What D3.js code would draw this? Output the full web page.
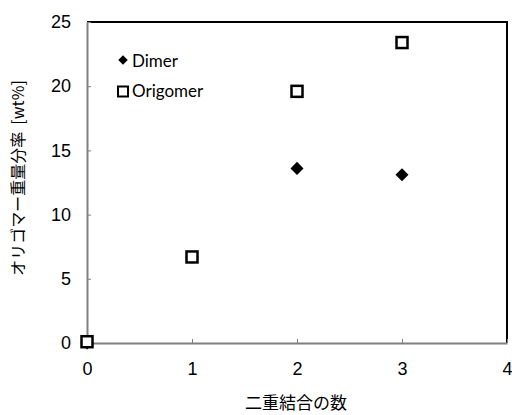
<!DOCTYPE html>
<html>
<head>
	<meta charset="utf-8"/>
	<script src="https://cdn.jsdelivr.net/npm/d3@7"></script>
	<style type="text/css">
		body { margin: 0; background: #fff; }
	</style>
</head>
<body>
	<svg id="chart" width="512" height="415"></svg>
	<script type="text/javascript">
		// data
		var bonds = [0, 1, 2, 3];
		var dimer = [0, 6.7, 13.6, 13.1];
		var origomer = [0.1, 6.7, 19.6, 23.4];
		var xTicks = [0, 1, 2, 3, 4];
		var yTicks = [0, 5, 10, 15, 20, 25];

		var svg = d3.select("#chart");
		var plotLeft = 87, plotRight = 507, plotTop = 22, plotBottom = 343;

		var x = d3.scaleLinear().domain([0, 4]).range([plotLeft, plotRight]);
		var y = d3.scaleLinear().domain([0, 25]).range([plotBottom, plotTop]);

		// frame: top and right black
		svg.append("path")
			.attr("d", "M" + plotLeft + "," + plotTop + "H" + plotRight + "V" + plotBottom)
			.attr("fill", "none")
			.attr("stroke", "#000")
			.attr("stroke-width", 2);

		// x axis, ticks inside
		var xAxis = svg.append("g")
			.attr("transform", "translate(0," + plotBottom + ")")
			.call(d3.axisBottom(x).tickValues(xTicks).tickFormat(d3.format("d"))
				.tickSizeInner(-4).tickSizeOuter(0).tickPadding(19));
		xAxis.select(".domain").attr("stroke", "#808080").attr("stroke-width", 2);
		xAxis.selectAll(".tick line").attr("stroke", "#808080");
		xAxis.selectAll("text")
			.style("font-family", "Liberation Sans, Arial, sans-serif")
			.style("font-size", "18px")
			.attr("fill", "#000");

		var yAxis = svg.append("g")
			.attr("transform", "translate(" + plotLeft + ",0)")
			.call(d3.axisLeft(y).tickValues(yTicks).tickFormat(d3.format("d"))
				.tickSizeInner(-4).tickSizeOuter(0).tickPadding(16));
		yAxis.select(".domain").attr("stroke", "#808080").attr("stroke-width", 2);
		yAxis.selectAll(".tick line").attr("stroke", "#808080");
		yAxis.selectAll("text")
			.style("font-family", "Liberation Sans, Arial, sans-serif")
			.style("font-size", "18px")
			.attr("fill", "#000");

		// dimer diamonds drawn first, squares on top
		var diamond = d3.symbol().type(d3.symbolSquare).size(85);
		svg.append("g").selectAll("path")
			.data(bonds).enter()
			.append("path")
			.attr("d", diamond)
			.attr("transform", function(d, i) { return "translate(" + x(d) + "," + y(dimer[i]) + ") rotate(45)"; })
			.attr("fill", "#000");

		svg.append("g").selectAll("rect")
			.data(bonds).enter()
			.append("rect")
			.attr("x", function(d) { return x(d) - 5.5; })
			.attr("y", function(d, i) { return y(origomer[i]) - 5.5; })
			.attr("width", 11)
			.attr("height", 11)
			.attr("fill", "#fff")
			.attr("stroke", "#000")
			.attr("stroke-width", 2.5);

		// legend
		var legend = svg.append("g");
		legend.append("path")
			.attr("d", d3.symbol().type(d3.symbolSquare).size(45))
			.attr("transform", "translate(123,60) rotate(45)")
			.attr("fill", "#000");
		legend.append("rect")
			.attr("x", 118).attr("y", 86.5).attr("width", 10).attr("height", 10)
			.attr("fill", "#fff").attr("stroke", "#000").attr("stroke-width", 2);
		legend.selectAll("text")
			.data(["Dimer", "Origomer"]).enter()
			.append("text")
			.attr("x", 132)
			.attr("y", function(d, i) { return 66.5 + i * 30; })
			.style("font-family", "Lato, 'Open Sans', sans-serif")
			.style("font-size", "17px")
			.text(function(d) { return d; });

		// axis titles
		svg.append("text")
			.attr("x", 296)
			.attr("y", 409)
			.attr("text-anchor", "middle")
			.style("font-family", "'Noto Sans CJK JP', sans-serif")
			.style("font-size", "17px")
			.text("二重結合の数");

		svg.append("text")
			.attr("transform", "translate(24,178) rotate(-90)")
			.attr("text-anchor", "middle")
			.style("font-family", "'Noto Sans CJK JP', sans-serif")
			.style("font-size", "16px")
			.style("white-space", "pre")
			.text("オリゴマー重量分率  [wt%]");
	</script>
</body>
</html>
